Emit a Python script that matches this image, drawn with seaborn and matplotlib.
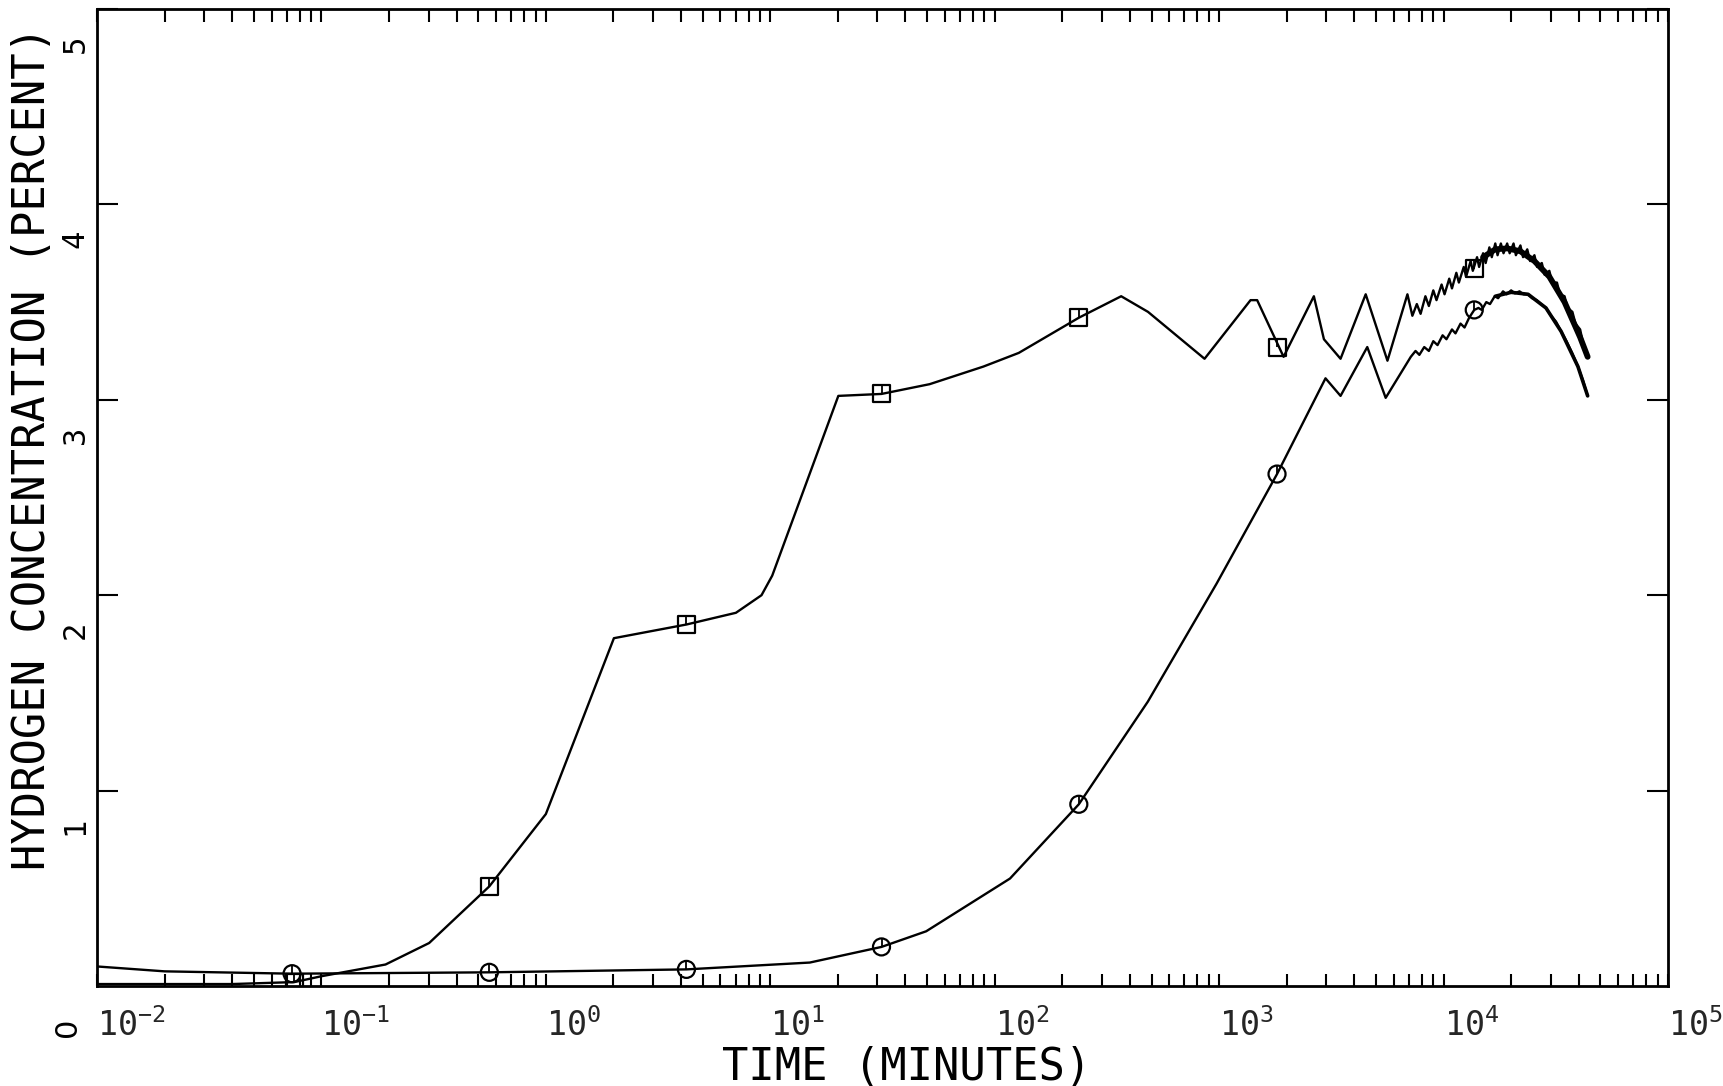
import matplotlib
matplotlib.use("Agg")
import matplotlib.pyplot as plt
import matplotlib.transforms as mtransforms
from matplotlib.ticker import LogLocator, NullFormatter, FixedLocator, FixedFormatter
import pandas as pd
import seaborn as sns

# ---------------- data ----------------
# upper curve (square markers): main vertices
sq_t = [0.01, 0.04, 0.0757, 0.1, 0.193, 0.302, 0.56, 1.0, 2.01, 4.23, 7.03, 9.14,
        10.2, 20.1, 31.3, 51.3, 89, 128, 237, 366, 482, 861, 1380, 1477, 1937,
        2643, 2930, 3475, 4498, 5623, 6902, 7261]
sq_v = [0.01, 0.01, 0.02, 0.05, 0.11, 0.22, 0.51, 0.88, 1.78, 1.85, 1.91, 2.00,
        2.10, 3.02, 3.03, 3.08, 3.17, 3.24, 3.42, 3.53, 3.45, 3.21, 3.51, 3.51, 3.22,
        3.53, 3.31, 3.21, 3.54, 3.20, 3.54, 3.43]
# upper curve: jagged tail
sq_tail_t = [7600, 7900, 8300, 8600, 9000, 9300, 9800, 10100, 10600, 10900, 11400,
             11700, 12300, 12600, 13200, 13500, 14100, 14400, 15000, 15400, 16000,
             16400, 17000, 17400, 18000, 18500, 19200, 19700, 20500, 21000, 22000,
             22600, 23600, 24300, 25400, 26100, 27400, 28200, 29600, 30500, 32000,
             33000, 34600, 35700, 37500, 38700, 40600, 42000, 43850]
sq_tail_v = [3.49, 3.44, 3.53, 3.48, 3.56, 3.51, 3.59, 3.54, 3.62, 3.57, 3.65,
             3.60, 3.68, 3.63, 3.71, 3.66, 3.73, 3.68, 3.75, 3.70, 3.78,
             3.73, 3.80, 3.74, 3.80, 3.75, 3.80, 3.75, 3.80, 3.74, 3.79,
             3.73, 3.77, 3.71, 3.74, 3.68, 3.70, 3.64, 3.66, 3.60, 3.60,
             3.54, 3.53, 3.47, 3.45, 3.39, 3.36, 3.28, 3.22]
# upper curve: centre of the dense (blackened) band after the peak
sq_band_t = [15000, 17000, 19200, 22000, 25400, 29600, 34600, 40600, 43850]
sq_band_v = [3.73, 3.77, 3.775, 3.76, 3.71, 3.63, 3.50, 3.32, 3.22]

# lower curve (circle markers): main vertices
ci_t = [0.01, 0.02, 0.074, 0.56, 4.23, 15, 31.3, 49.5, 117, 237, 481, 975, 1811,
        2406, 2978, 3475, 4571, 5521, 7145]
ci_v = [0.10, 0.075, 0.063, 0.07, 0.085, 0.12, 0.20, 0.28, 0.55, 0.93, 1.455, 2.06,
        2.62, 2.90, 3.11, 3.02, 3.27, 3.01, 3.22]
# lower curve: jagged tail
ci_tail_t = [7500, 7800, 8200, 8600, 9000, 9400, 9900, 10300, 10900, 11300, 11900,
             12400, 13000, 13700, 14300, 14800, 15500, 16100, 16900, 17500, 18400,
             19100, 20000, 20800, 21800, 22700, 23800, 24800, 26000, 27200, 28600,
             30100, 31700, 33400, 35300, 37400, 39700, 41800, 43850]
ci_tail_v = [3.25, 3.23, 3.27, 3.25, 3.30, 3.28, 3.33, 3.31, 3.36, 3.34, 3.39,
             3.37, 3.42, 3.46, 3.47, 3.46, 3.50, 3.49, 3.53, 3.52, 3.555,
             3.54, 3.56, 3.545, 3.555, 3.54, 3.54, 3.52, 3.51, 3.49, 3.47,
             3.43, 3.40, 3.35, 3.30, 3.24, 3.17, 3.10, 3.02]
ci_band_t = [17000, 20000, 23800, 28600, 33400, 39700, 43850]
ci_band_v = [3.53, 3.55, 3.54, 3.47, 3.35, 3.17, 3.02]

# markers
sq_mark_t = [0.0757, 0.56, 4.23, 31.3, 237, 1811, 13700]
sq_mark_v = [0.02, 0.51, 1.85, 3.03, 3.42, 3.27, 3.67]
ci_mark_t = [0.074, 0.56, 4.23, 31.3, 237, 1811, 13700]
ci_mark_v = [0.063, 0.07, 0.085, 0.20, 0.93, 2.62, 3.46]

# ticks / labels
y_ticks = [1, 2, 3, 4, 5]
y_ticklabels = ["1", "2", "3", "4", "5"]
x_decades = [1e-2, 1e-1, 1e0, 1e1, 1e2, 1e3, 1e4, 1e5]
x_ticklabels = [r"$10^{-2}$", r"$10^{-1}$", r"$10^{0}$", r"$10^{1}$",
                r"$10^{2}$", r"$10^{3}$", r"$10^{4}$", r"$10^{5}$"]
x_label = "TIME (MINUTES)"
y_label = "HYDROGEN CONCENTRATION (PERCENT)"

# ---------------- figure ----------------
sns.set_theme(style="ticks")
plt.rcParams["font.family"] = ["DejaVu Sans Mono", "DejaVu Sans"]
plt.rcParams["mathtext.default"] = "regular"
plt.rcParams["mathtext.fontset"] = "custom"
plt.rcParams["mathtext.rm"] = "DejaVu Sans"

fig = plt.figure(figsize=(17.24, 10.86), dpi=100)
fig.patch.set_facecolor("white")
ax = fig.add_axes([97 / 1724, 1 - 986 / 1086, (1668 - 97) / 1724, (986 - 9) / 1086])
ax.set_facecolor("white")

df_sq = pd.DataFrame({"t": sq_t + sq_tail_t, "v": sq_v + sq_tail_v})
df_ci = pd.DataFrame({"t": ci_t + ci_tail_t, "v": ci_v + ci_tail_v})
df_sq_band = pd.DataFrame({"t": sq_band_t, "v": sq_band_v})
df_ci_band = pd.DataFrame({"t": ci_band_t, "v": ci_band_v})

sns.lineplot(data=df_sq, x="t", y="v", sort=False, estimator=None,
             color="black", linewidth=1.7, ax=ax)
sns.lineplot(data=df_ci, x="t", y="v", sort=False, estimator=None,
             color="black", linewidth=1.7, ax=ax)
sns.lineplot(data=df_sq_band, x="t", y="v", sort=False, estimator=None,
             color="black", linewidth=4.2, ax=ax)
sns.lineplot(data=df_ci_band, x="t", y="v", sort=False, estimator=None,
             color="black", linewidth=2.6, ax=ax)

sns.scatterplot(x=sq_mark_t, y=sq_mark_v, marker="s", s=150, facecolor="none",
                edgecolor="black", linewidth=1.6, ax=ax, zorder=4)
sns.scatterplot(x=ci_mark_t, y=ci_mark_v, marker="o", s=150, facecolor="none",
                edgecolor="black", linewidth=1.6, ax=ax, zorder=4)
# small pen stroke inside each plotter symbol
half_stroke = [(0, 0), (0, 1)]
ax.scatter(sq_mark_t, sq_mark_v, marker=half_stroke, s=150, c="black", linewidths=1.3, zorder=5)
ax.scatter(ci_mark_t, ci_mark_v, marker=half_stroke, s=150, c="black", linewidths=1.3, zorder=5)

ax.set_xscale("log")
ax.set_xlim(1e-2, 1e5)
ax.set_ylim(0, 5)
ax.set_xlabel("")
ax.set_ylabel("")

ax.xaxis.set_major_locator(FixedLocator(x_decades))
ax.xaxis.set_major_formatter(FixedFormatter(x_ticklabels))
ax.xaxis.set_minor_locator(LogLocator(base=10, subs=[2, 3, 4, 5, 6, 7, 8, 9], numticks=50))
ax.xaxis.set_minor_formatter(NullFormatter())
ax.yaxis.set_major_locator(FixedLocator(y_ticks))

ax.tick_params(axis="x", which="both", direction="in", top=True, bottom=True,
               length=9, width=1.5, color="black", labelsize=24, pad=16)
ax.tick_params(axis="y", which="major", direction="in", left=True, right=True,
               length=15, width=1.5, color="black", labelleft=False)
ax.tick_params(axis="y", which="minor", left=False, right=False)
for lab in ax.get_xticklabels():
    lab.set_horizontalalignment("left")

for sp in ax.spines.values():
    sp.set_visible(True)
    sp.set_color("black")
    sp.set_linewidth(2.0)

# rotated y tick labels, placed slightly below their ticks as in the reference
ytrans = mtransforms.offset_copy(ax.get_yaxis_transform(), fig=fig, x=0, y=-25, units="points")
for v, s in zip(y_ticks, y_ticklabels):
    ax.text(-0.014, v, s, transform=ytrans, rotation=90, ha="center", va="center",
            fontsize=22, color="black", clip_on=False)
# the "0" label sits at the level of the x tick labels
fig.text(68 / 1724, 1 - 1027 / 1086, "0", rotation=90, ha="center", va="center",
         fontsize=22, color="black", family="DejaVu Sans")

fig.text(33 / 1724, 1 - 448 / 1086, y_label, rotation=90, ha="center", va="center",
         fontsize=31.5, color="black")
fig.text(907 / 1724, 1 - 1067 / 1086, x_label, ha="center", va="center",
         fontsize=31.5, color="black")

fig.savefig("out.png", dpi=100, facecolor="white")
